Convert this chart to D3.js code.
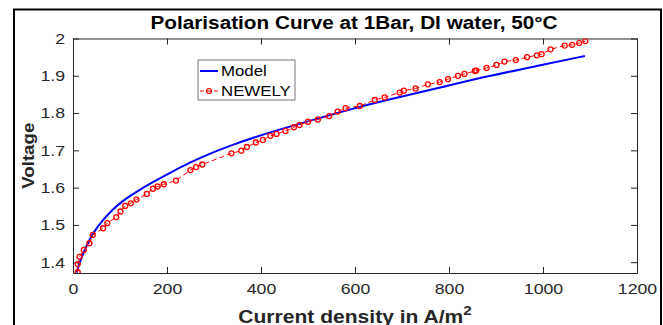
<!DOCTYPE html>
<html>
<head>
<meta charset="utf-8">
<script src="https://cdn.jsdelivr.net/npm/d3@7"></script>
<style>
  body { margin: 0; background: #fff; }
  svg { display: block; font-family: Arial, "Liberation Sans", sans-serif; }
</style>
</head>
<body>
<svg id="chart"></svg>
<script>
// Model curve (A/m^2, V)
const modelCurrent = [8, 12, 18, 28, 42, 64, 85, 106, 135, 170, 210, 248, 291, 333, 390, 461, 532, 567, 638, 709, 780, 886, 990, 1089];
const modelVoltage = [1.372, 1.392, 1.411, 1.442, 1.478, 1.514, 1.542, 1.565, 1.589, 1.615, 1.642, 1.667, 1.691, 1.712, 1.737, 1.764, 1.789, 1.802, 1.826, 1.847, 1.868, 1.900, 1.927, 1.953];

// Measured data, NEWELY
const newelyCurrent = [10, 10, 14, 23, 35, 42, 64, 73, 92, 101, 111, 123, 135, 157, 170, 180, 193, 219, 250, 262, 275, 337, 358, 370, 389, 404, 420, 433, 452, 470, 482, 500, 521, 545, 563, 580, 610, 642, 663, 695, 704, 729, 755, 780, 798, 819, 833, 855, 858, 880, 901, 918, 942, 966, 987, 997, 1016, 1046, 1062, 1077, 1090];
const newelyVoltage = [1.373, 1.395, 1.415, 1.433, 1.451, 1.473, 1.491, 1.505, 1.521, 1.536, 1.551, 1.558, 1.568, 1.583, 1.597, 1.603, 1.609, 1.619, 1.647, 1.655, 1.662, 1.692, 1.699, 1.709, 1.721, 1.728, 1.739, 1.744, 1.752, 1.762, 1.768, 1.777, 1.783, 1.792, 1.804, 1.813, 1.819, 1.835, 1.842, 1.855, 1.860, 1.866, 1.877, 1.883, 1.891, 1.900, 1.905, 1.913, 1.914, 1.921, 1.929, 1.938, 1.942, 1.950, 1.955, 1.958, 1.971, 1.981, 1.983, 1.988, 1.993];

const xTicks = [0, 200, 400, 600, 800, 1000, 1200];
const yTicks = [1.4, 1.5, 1.6, 1.7, 1.8, 1.9, 2];

const width = 663;
const height = 325;
const margin = { top: 38.5, right: 26, bottom: 52, left: 73 };
const innerW = width - margin.left - margin.right;
const innerH = height - margin.top - margin.bottom;

// the reference image is a bit wider than tall, so text is stretched sideways
function stretch(sel, k) {
  sel.each(function () {
    const len = this.getComputedTextLength();
    d3.select(this).attr('textLength', len * k).attr('lengthAdjust', 'spacingAndGlyphs');
  });
}

const svg = d3.select('#chart')
  .attr('width', width)
  .attr('height', height);

// outer figure frame
svg.append('rect')
  .attr('x', 14).attr('y', 9.5)
  .attr('width', 647).attr('height', 330)
  .attr('fill', 'none')
  .attr('stroke', '#000')
  .attr('stroke-width', 2);

const g = svg.append('g')
  .attr('transform', `translate(${margin.left},${margin.top})`);

const x = d3.scaleLinear().domain([0, 1200]).range([0, innerW]);
const y = d3.scaleLinear().domain([1.371, 2]).range([innerH, 0]);

const tickColor = '#262626';

// axes (inward ticks, boxed)
g.append('g')
  .attr('transform', `translate(0,${innerH})`)
  .call(d3.axisBottom(x).tickValues(xTicks).tickSizeInner(-6).tickSizeOuter(0).tickPadding(10).tickFormat(d3.format('d')));
g.append('g')
  .call(d3.axisLeft(y).tickValues(yTicks).tickSizeInner(-6).tickSizeOuter(0).tickPadding(8).tickFormat(d3.format('')));
g.append('g')
  .call(d3.axisTop(x).tickValues(xTicks).tickSizeInner(-6).tickSizeOuter(0).tickFormat(''));
g.append('g')
  .attr('transform', `translate(${innerW},0)`)
  .call(d3.axisRight(y).tickValues(yTicks).tickSizeInner(-6).tickSizeOuter(0).tickFormat(''));

g.selectAll('.domain').attr('stroke', tickColor);
g.selectAll('.tick line').attr('stroke', tickColor);
g.selectAll('.tick text')
  .attr('fill', tickColor)
  .attr('font-size', 15)
  .attr('font-family', 'Arial, "Liberation Sans", sans-serif')
  .call(stretch, 1.18);

// clip to plot area
svg.append('clipPath').attr('id', 'clip')
  .append('rect').attr('width', innerW).attr('height', innerH);

const plot = g.append('g').attr('clip-path', 'url(#clip)');

const modelData = modelCurrent.map((c, i) => ({ c, v: modelVoltage[i] }));
const newelyData = newelyCurrent.map((c, i) => ({ c, v: newelyVoltage[i] }));

plot.append('path')
  .datum(modelData)
  .attr('fill', 'none')
  .attr('stroke', '#0000ff')
  .attr('stroke-width', 2)
  .attr('d', d3.line().x(d => x(d.c)).y(d => y(d.v)).curve(d3.curveBasis));

plot.append('path')
  .datum(newelyData)
  .attr('fill', 'none')
  .attr('stroke', '#ff0000')
  .attr('stroke-width', 1)
  .attr('stroke-dasharray', '5,3')
  .attr('d', d3.line().x(d => x(d.c)).y(d => y(d.v)));

plot.selectAll('circle.pt')
  .data(newelyData)
  .join('circle')
  .attr('class', 'pt')
  .attr('cx', d => x(d.c))
  .attr('cy', d => y(d.v))
  .attr('r', 2.5)
  .attr('fill', 'none')
  .attr('stroke', '#ff0000')
  .attr('stroke-width', 1.3);

// title
svg.append('text')
  .attr('x', 354)
  .attr('y', 29)
  .attr('text-anchor', 'middle')
  .attr('font-size', 18)
  .attr('font-weight', 'bold')
  .attr('fill', '#000')
  .attr('textLength', 407)
  .attr('lengthAdjust', 'spacingAndGlyphs')
  .text('Polarisation Curve at 1Bar, DI water, 50°C');

// axis labels
const xl = svg.append('g')
  .attr('transform', 'translate(355,323) scale(1.17,1)')
  .append('text')
  .attr('text-anchor', 'middle')
  .attr('font-size', 18)
  .attr('font-weight', 'bold')
  .attr('fill', tickColor);
xl.append('tspan').text('Current density in A/m');
xl.append('tspan').attr('dy', -8).attr('font-size', 13).text('2');

svg.append('text')
  .attr('transform', `translate(34,${margin.top + innerH / 2}) rotate(-90)`)
  .attr('text-anchor', 'middle')
  .attr('font-size', 17)
  .attr('font-weight', 'bold')
  .attr('fill', tickColor)
  .text('Voltage')
  .call(stretch, 1.1);

// legend
const lg = svg.append('g').attr('transform', 'translate(198,60)');
lg.append('rect')
  .attr('width', 97).attr('height', 40)
  .attr('fill', '#fff')
  .attr('stroke', '#777')
  .attr('stroke-width', 1);
lg.append('line')
  .attr('x1', 2).attr('x2', 20).attr('y1', 11).attr('y2', 11)
  .attr('stroke', '#0000ff').attr('stroke-width', 2);
lg.append('text')
  .attr('x', 23).attr('y', 16)
  .attr('font-size', 15).attr('fill', '#000')
  .text('Model')
  .call(stretch, 1.12);
lg.append('line')
  .attr('x1', 2).attr('x2', 20).attr('y1', 31).attr('y2', 31)
  .attr('stroke', '#ff0000').attr('stroke-width', 1)
  .attr('stroke-dasharray', '4,3');
lg.append('circle')
  .attr('cx', 11).attr('cy', 31).attr('r', 2.5)
  .attr('fill', 'none').attr('stroke', '#ff0000').attr('stroke-width', 1.2);
lg.append('text')
  .attr('x', 23).attr('y', 36)
  .attr('font-size', 15).attr('fill', '#000')
  .text('NEWELY')
  .call(stretch, 1.12);
</script>
</body>
</html>
